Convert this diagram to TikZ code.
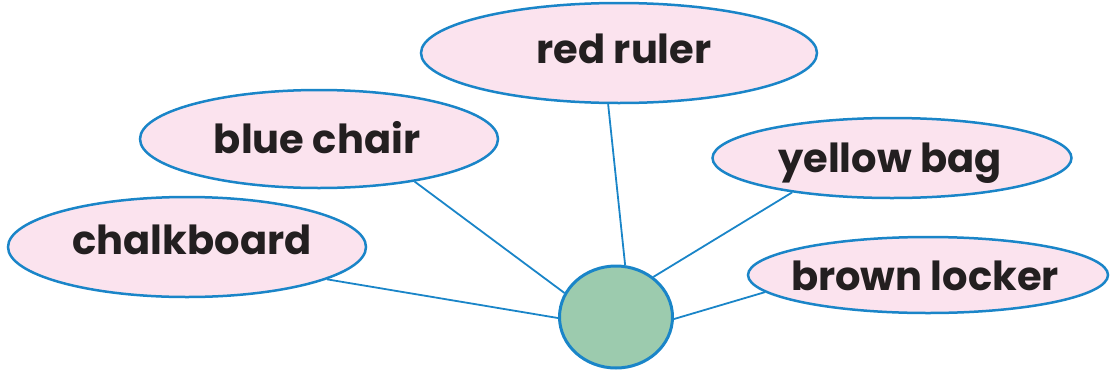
\documentclass[tikz,border=0pt]{standalone}
\usepackage{fontspec}
\setmainfont{Poppins}
\usetikzlibrary{shapes.geometric}
\definecolor{edge}{HTML}{1A85C8}
\definecolor{pinkfill}{HTML}{FBE3EE}
\definecolor{greenfill}{HTML}{9CCBAE}
\definecolor{ink}{HTML}{231F20}
\tikzset{
  bubble/.style={ellipse, draw=edge, fill=pinkfill, line width=2.5pt, inner sep=0pt},
  word/.style={anchor=base, inner sep=0pt, text=ink, font=\fontsize{40}{44}\selectfont\bfseries},
  hub/.style={ellipse, draw=edge, fill=greenfill, line width=3pt, inner sep=0pt, minimum width=113pt, minimum height=102pt},
  link/.style={draw=edge, line width=1.8pt}
}
\begin{document}
\begin{tikzpicture}[x=1pt,y=-1pt]
\useasboundingbox (0,0) rectangle (1110,370);
\node[bubble, minimum width=396pt, minimum height=100pt] (rr) at (619,53) {};
\node[bubble, minimum width=358pt, minimum height=98pt] (bc) at (319,139) {};
\node[bubble, minimum width=358pt, minimum height=100pt] (cb) at (187,247) {};
\node[bubble, minimum width=359pt, minimum height=80pt] (yb) at (892,158) {};
\node[bubble, minimum width=360pt, minimum height=76pt] (bl) at (928,275) {};
\node[hub] (c) at (616,317) {};
\node[word] (trr) at (624,63) {red ruler};
\node[word] (tbc) at (317,153) {blue chair};
\node[word] (tcb) at (192,254) {chalkboard};
\node[word] (tyb) at (890,172) {yellow bag};
\node[word] (tbl) at (925,290) {brown locker};
\draw[link] (rr.258.7) -- (c.80.9);
\draw[link] (bc.336.6) -- (c.155.4);
\draw[link] (cb.347.8) -- (c.181);
\draw[link] (yb.199.7) -- (c.47.3);
\draw[link] (bl.186.1) -- (c.-2);
\end{tikzpicture}
\end{document}
